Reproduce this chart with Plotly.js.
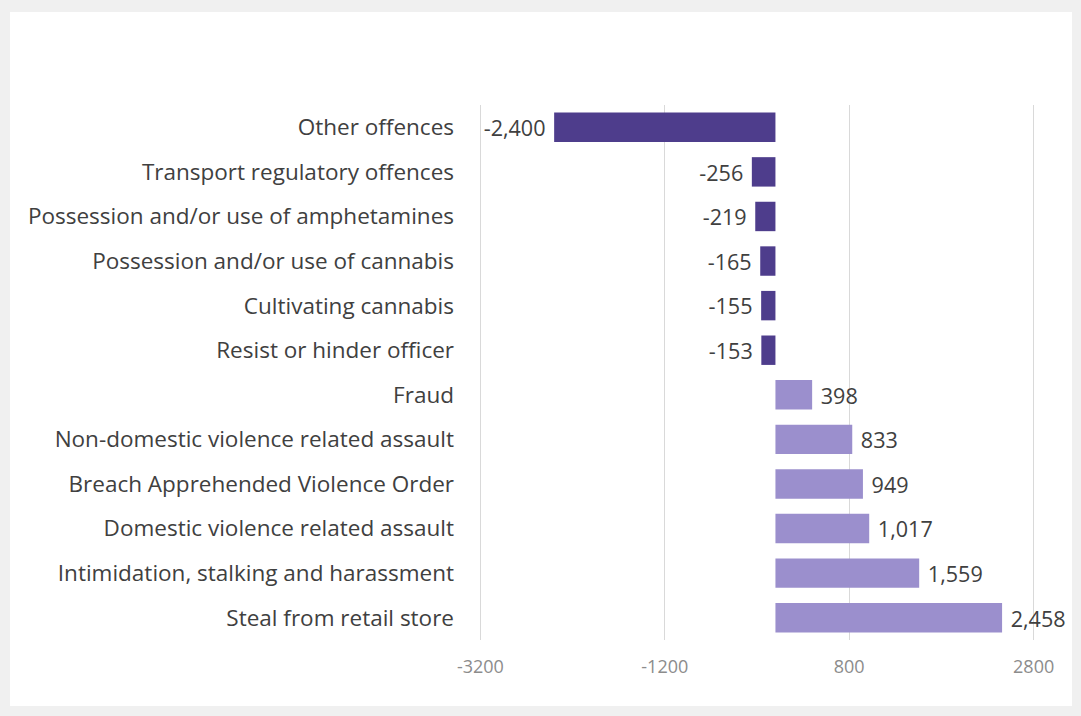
<!DOCTYPE html>
<html>
<head>
<meta charset="utf-8">
<script src="https://cdn.plot.ly/plotly-3.0.1.min.js"></script>
<style>
  body { margin: 0; background: #f0f0f0; }
  #chart { position: absolute; left: 10px; top: 12px; width: 1062px; height: 694px; background: #fff; }
</style>
</head>
<body>
<div id="chart"></div>
<script>
// Change in number of offences, top to bottom as shown
const categories = [
  'Other offences',
  'Transport regulatory offences',
  'Possession and/or use of amphetamines',
  'Possession and/or use of cannabis',
  'Cultivating cannabis',
  'Resist or hinder officer',
  'Fraud',
  'Non-domestic violence related assault',
  'Breach Apprehended Violence Order',
  'Domestic violence related assault',
  'Intimidation, stalking and harassment',
  'Steal from retail store'
];
const changes = [-2400, -256, -219, -165, -155, -153, 398, 833, 949, 1017, 1559, 2458];
const tickVals = [-3200, -1200, 800, 2800];

const COLORS = {
  decrease: '#4e3d8c',
  increase: '#9b8fcd',
  label: '#404040',
  tick: '#8c8c8c',
  grid: '#d9d9d9'
};

const trace = {
  type: 'bar',
  orientation: 'h',
  y: categories,
  x: changes,
  width: 0.66,
  marker: { color: changes.map(v => v < 0 ? COLORS.decrease : COLORS.increase) },
  text: changes.map(v => ' ' + v.toLocaleString('en-US') + ' '),
  textposition: 'outside',
  cliponaxis: false,
  textfont: { family: 'Open Sans, sans-serif', size: 22, color: COLORS.label },
  hoverinfo: 'x+y'
};

const layout = {
  width: 1062,
  height: 694,
  margin: { l: 469, r: 37, t: 93, b: 66 },
  paper_bgcolor: '#fff',
  plot_bgcolor: '#fff',
  showlegend: false,
  bargap: 0.34,
  xaxis: {
    range: [-3215, 2815],
    tickvals: tickVals,
    ticktext: tickVals.map(String),
    showgrid: true,
    gridcolor: COLORS.grid,
    zeroline: false,
    showline: false,
    ticklabelstandoff: 14,
    tickfont: { family: 'Open Sans, sans-serif', size: 18, color: COLORS.tick }
  },
  yaxis: {
    autorange: 'reversed',
    showgrid: false,
    zeroline: false,
    ticks: '',
    ticklabelstandoff: 24,
    tickfont: { family: 'Open Sans, sans-serif', size: 22.5, color: COLORS.label }
  },
  font: { family: 'Open Sans, sans-serif' }
};

Plotly.newPlot('chart', [trace], layout, { displayModeBar: false });
</script>
</body>
</html>
